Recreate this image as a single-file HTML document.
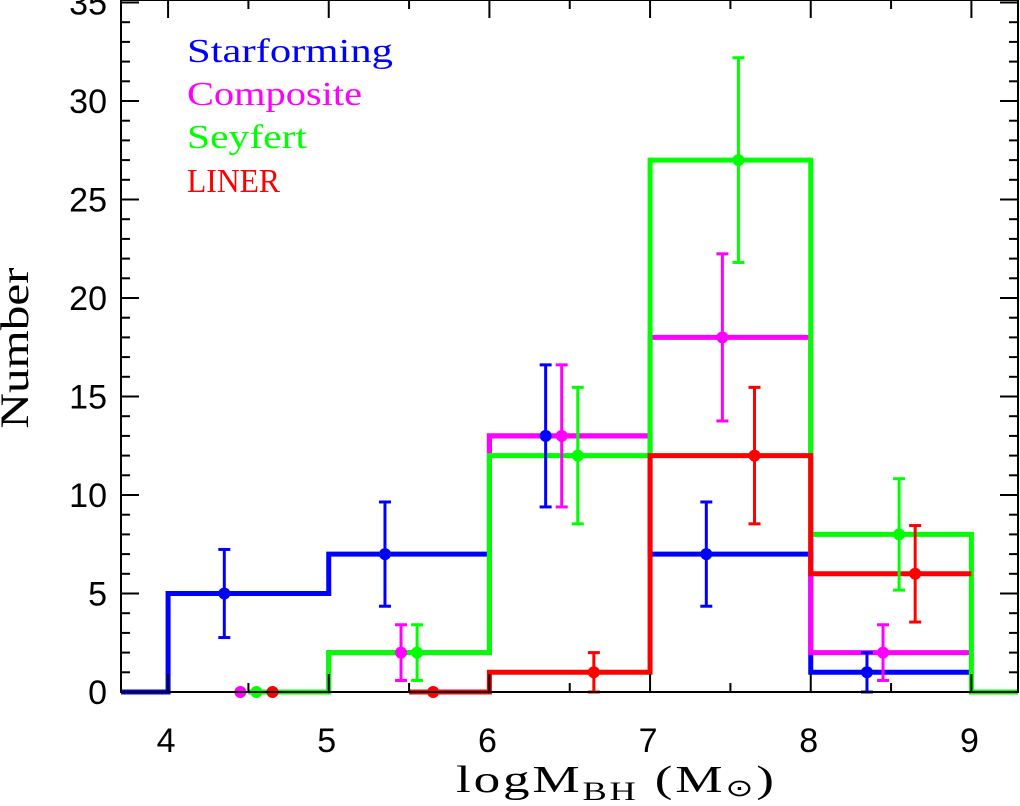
<!DOCTYPE html>
<html><head><meta charset="utf-8"><style>
html,body{margin:0;padding:0;background:#fff;}
svg{display:block;}
</style></head><body>
<svg id="chart" width="1020" height="806" viewBox="0 0 1020 806" xmlns="http://www.w3.org/2000/svg">
<g id="series"></g>
<g id="axes"></g>
<g font-family="Liberation Serif, serif" font-size="34">
<text x="187" y="62" fill="#0000ff" textLength="206" lengthAdjust="spacingAndGlyphs">Starforming</text>
<text x="187" y="105" fill="#ff00ff" textLength="175" lengthAdjust="spacingAndGlyphs">Composite</text>
<text x="187" y="148" fill="#00ff00" textLength="120" lengthAdjust="spacingAndGlyphs">Seyfert</text>
<text x="187" y="192" fill="#ff0000" textLength="93" lengthAdjust="spacingAndGlyphs">LINER</text>
</g>
<text transform="translate(28,348) rotate(-90)" text-anchor="middle" font-family="Liberation Serif, serif" font-size="40" textLength="161" lengthAdjust="spacingAndGlyphs">Number</text>
<text transform="translate(456,792) scale(1.4,1)" x="0" y="0" font-family="Liberation Serif, serif" font-size="38" letter-spacing="2">logM<tspan font-size="26" dy="8">BH</tspan><tspan dy="-8"> (M</tspan><tspan font-size="24" dy="4">⊙</tspan><tspan dy="-4">)</tspan></text>
</svg>
<script>
const binEdges = [4, 5, 6, 7, 8, 9];
const seriesNames = ["starforming", "composite", "seyfert", "liner"];
const seriesColors = ["#0000ff", "#ff00ff", "#00ff00", "#ff0000"];
const starforming = [5, 7, 13, 7, 1];
const composite = [0, 2, 13, 18, 2];
const seyfert = [0, 2, 12, 27, 8];
const liner = [0, 0, 1, 12, 6];
const lineStarts = [3.707, 4.5, 4.5, 5.5];
const pointOffsets = [0.35, 0.45, 0.55, 0.65];
const xTicks = [4, 5, 6, 7, 8, 9];
const yTicks = [0, 5, 10, 15, 20, 25, 30, 35];

const X0 = 3.707, X1 = 9.29, Y0 = 0, Y1 = 35;
const L = 121, R = 1018, B = 692, T = 2.5;
const sx = v => L + (v - X0) / (X1 - X0) * (R - L);
const sy = v => B - (v - Y0) / (Y1 - Y0) * (B - T);
const NS = "http://www.w3.org/2000/svg";
const mk = (tag, attrs, parent) => { const e = document.createElementNS(NS, tag); for (const k in attrs) e.setAttribute(k, attrs[k]); parent.appendChild(e); return e; };
const sg = document.getElementById("series");
const ag = document.getElementById("axes");
const allData = [starforming, composite, seyfert, liner];

allData.forEach((vals, si) => {
  const col = seriesColors[si];
  const st = lineStarts[si];
  let d = `M${sx(st)},${sy(0)}`;
  let prev = 0;
  vals.forEach((v, i) => {
    if (binEdges[i + 1] <= st) return;
    const x0 = Math.max(binEdges[i], st);
    d += ` L${sx(x0)},${sy(prev)} L${sx(x0)},${sy(v)} L${sx(binEdges[i + 1])},${sy(v)}`;
    prev = v;
  });
  if (seriesNames[si] === "seyfert") d += ` L${sx(binEdges[binEdges.length - 1])},${sy(0)} L${R},${sy(0)}`;
  const p = mk("path", {d: d, fill: "none", stroke: col, "stroke-width": 5, "stroke-linejoin": "miter"}, sg);
  
  
});
allData.forEach((vals, si) => {
  const col = seriesColors[si];
  vals.forEach((v, i) => {
    const xv = binEdges[i] + pointOffsets[si];
    const x = sx(xv);
    const g = mk("g", {}, sg);
    
    
    if (v > 0) {
      const e = Math.sqrt(v);
      const yt = sy(v + e), yb = sy(Math.max(0, v - e));
      mk("line", {x1: x, x2: x, y1: yt, y2: yb, stroke: col, "stroke-width": 3}, g);
      mk("line", {x1: x - 6, x2: x + 6, y1: yt, y2: yt, stroke: col, "stroke-width": 3}, g);
      mk("line", {x1: x - 6, x2: x + 6, y1: yb, y2: yb, stroke: col, "stroke-width": 3}, g);
    }
    mk("circle", {cx: x, cy: sy(v), r: 6, fill: col}, g);
  });
});

mk("rect", {x: L, y: 0, width: R - L, height: B, fill: "none", stroke: "#000", "stroke-width": 2}, ag);
for (let v = 3.5; v <= 9.5; v += 0.5) {
  if (v < X0 || v > X1) continue;
  const major = Number.isInteger(v);
  const len = major ? 18 : 9;
  const x = sx(v);
  mk("line", {x1: x, x2: x, y1: B, y2: B - len, stroke: "#000", "stroke-width": 2}, ag);
  mk("line", {x1: x, x2: x, y1: 0, y2: len, stroke: "#000", "stroke-width": 2}, ag);
}
xTicks.forEach(t => {
  const tx = mk("text", {x: sx(t) - 2, y: 752, "text-anchor": "middle", "font-family": "Liberation Sans, sans-serif", "font-size": 34}, ag);
  tx.textContent = t;
  
  
});
for (let v = 0; v <= 35; v++) {
  const major = v % 5 === 0;
  const len = major ? 18 : 9;
  const y = sy(v);
  mk("line", {x1: L, x2: L + len, y1: y, y2: y, stroke: "#000", "stroke-width": 2}, ag);
  mk("line", {x1: R, x2: R - len, y1: y, y2: y, stroke: "#000", "stroke-width": 2}, ag);
}
yTicks.forEach(t => {
  const tx = mk("text", {x: 107, y: sy(t) + 12, "text-anchor": "end", "font-family": "Liberation Sans, sans-serif", "font-size": 34}, ag);
  tx.textContent = t;
  
  
});
</script>
</body></html>
